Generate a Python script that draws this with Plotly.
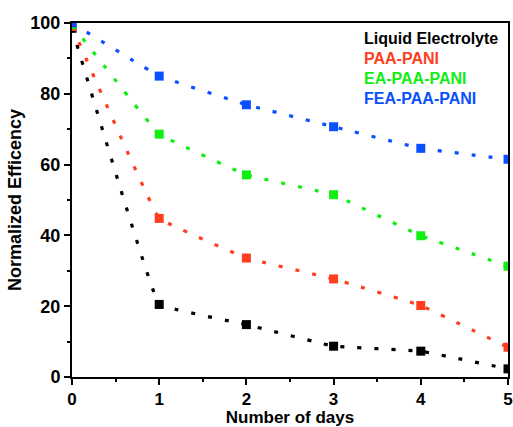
import plotly.graph_objects as go

days = [0, 1, 2, 3, 4, 5]
series_names = ["Liquid Electrolyte", "PAA-PANI", "EA-PAA-PANI", "FEA-PAA-PANI"]
liquid = [98.5, 20.5, 14.8, 8.7, 7.3, 2.3]
paa_pani = [99.0, 44.8, 33.6, 27.7, 20.2, 8.4]
ea_paa_pani = [99.5, 68.6, 57.1, 51.5, 39.9, 31.3]
fea_paa_pani = [100.0, 85.0, 76.9, 70.7, 64.6, 61.5]
colors = ["#000000", "#FF3D1F", "#12EE12", "#0A50FF"]
x_ticks = [0, 1, 2, 3, 4, 5]
y_ticks = [0, 20, 40, 60, 80, 100]

fig = go.Figure()
for name, vals, col in zip(series_names, [liquid, paa_pani, ea_paa_pani, fea_paa_pani], colors):
    fig.add_trace(go.Scatter(
        x=days, y=vals, name=name, mode="lines+markers",
        line=dict(color=col, width=3.2, dash="4px,13px", shape="spline", smoothing=0.15),
        marker=dict(symbol="square", size=9, color=col, line=dict(width=0)),
        showlegend=False,
    ))

font_b = "Liberation Sans, Arial, sans-serif"
for i, (name, col) in enumerate(zip(series_names, colors)):
    fig.add_annotation(
        text="<b>%s</b>" % name, xref="paper", yref="paper",
        x=0.665, y=0.955 - i * 0.0565, xanchor="left", yanchor="middle",
        showarrow=False, font=dict(family=font_b, size=16, color=col),
    )

axis_common = dict(
    showline=True, linewidth=2, linecolor="black", mirror=True,
    ticks="outside", ticklen=6, tickwidth=2, tickcolor="black",
    showgrid=False, zeroline=False,
)

fig.update_xaxes(
    range=[0, 5], tickvals=x_ticks, ticktext=["<b>%d</b>" % v for v in x_ticks],
    tickfont=dict(family=font_b, size=17, color="black"),
    minor=dict(dtick=0.5, ticks="outside", ticklen=3, tickwidth=2, tickcolor="black"),
    title=dict(text="<b>Number of days</b>", font=dict(family=font_b, size=17, color="black"), standoff=0),
    **axis_common,
)
fig.update_yaxes(
    range=[0, 100], tickvals=y_ticks, ticktext=["<b>%d</b>" % v for v in y_ticks],
    tickfont=dict(family=font_b, size=18, color="black"),
    minor=dict(dtick=10, ticks="outside", ticklen=3, tickwidth=2, tickcolor="black"),
    title=dict(text="<b>Normalized Efficency</b>", font=dict(family=font_b, size=18, color="black"), standoff=4),
    **axis_common,
)

fig.update_layout(
    width=513, height=427,
    margin=dict(l=72, r=5, t=23, b=50, autoexpand=False),
    plot_bgcolor="white", paper_bgcolor="white",
)

fig.write_html("out.html")
